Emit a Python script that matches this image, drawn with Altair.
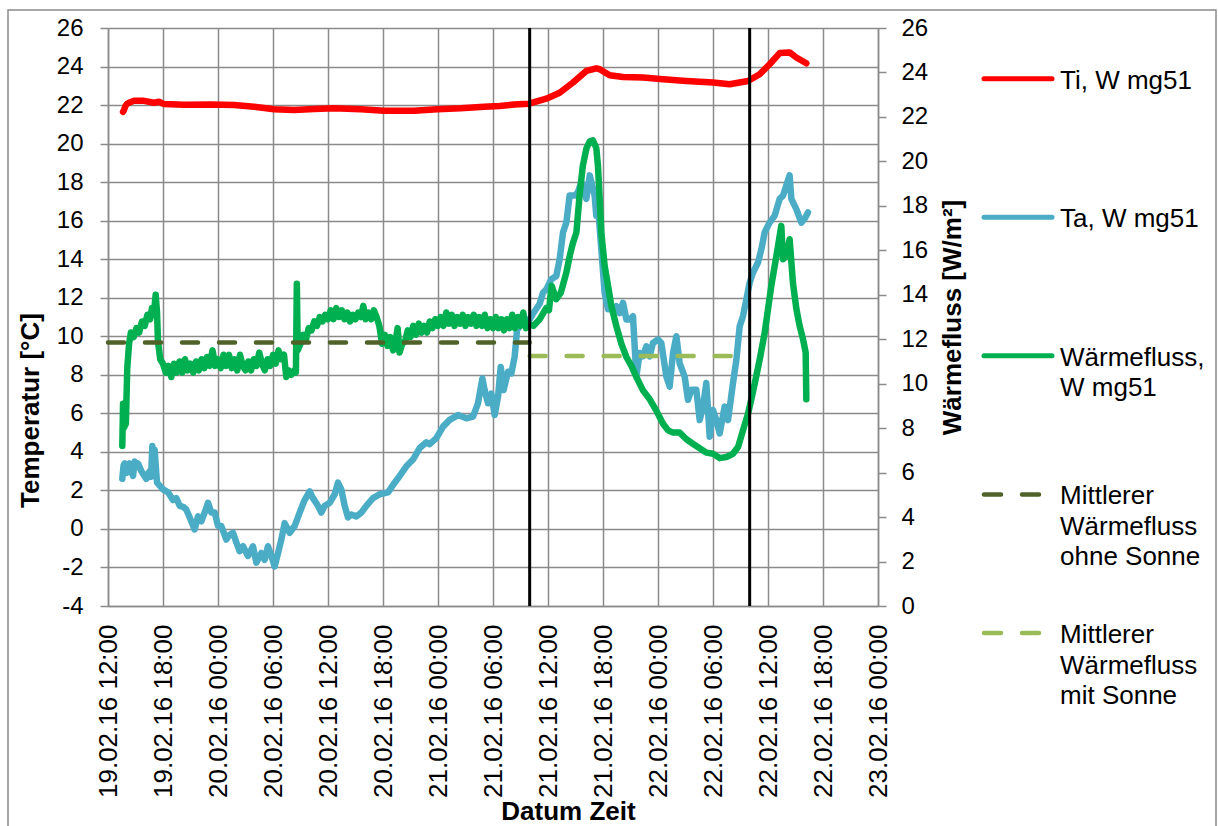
import altair as alt
import pandas as pd

# Time axis: hours after 19.02.16 12:00
START = pd.Timestamp("2016-02-19 12:00")

# Ti, W mg51 - indoor temperature [°C]
ti_hours = [1.64, 1.75, 1.9, 2.05, 2.29, 2.84, 3.93, 5.02, 5.56, 6.11, 8.29, 11.2, 13.75,
            15.93, 18.11, 20.29, 22.47, 24.65, 27.56, 30.11, 33.38, 35.93, 38.47, 41.02,
            42.73, 44.29, 45.93, 47.82, 49.27, 50.73, 52.18, 53.27, 53.64, 54.73, 56.18,
            58.36, 60.55, 63.09, 66.0, 67.82, 69.82, 71.09, 72.18, 73.27, 74.36, 75.09, 76.18]
ti_temp = [21.65, 21.75, 21.95, 22.05, 22.12, 22.22, 22.22, 22.12, 22.17, 22.05, 22.02, 22.03, 22.0,
           21.91, 21.78, 21.74, 21.79, 21.83, 21.78, 21.71, 21.71, 21.78, 21.83, 21.91,
           21.95, 22.03, 22.07, 22.33, 22.64, 23.17, 23.77, 23.91, 23.86, 23.55, 23.46,
           23.43, 23.34, 23.25, 23.17, 23.08, 23.25, 23.6, 24.12, 24.7, 24.73, 24.47, 24.17]

# Ta, W mg51 - outdoor temperature [°C]
ta_hours = [1.56, 1.7, 1.82, 2.0, 2.2, 2.36, 2.55, 2.73, 2.91, 3.1, 3.27, 3.64, 3.9, 4.18, 4.4,
            4.55, 4.7, 4.84, 4.95, 5.09, 5.25, 5.35, 6.0, 6.55, 7.09, 7.45, 7.82, 8.2, 8.55,
            9.09, 9.45, 9.82, 10.18, 10.55, 10.91, 11.27, 11.64, 12.0, 12.36, 12.91, 13.27,
            13.64, 14.0, 14.36, 14.73, 15.27, 15.82, 16.18, 16.73, 17.09, 17.45, 17.82, 18.18,
            18.55, 18.91, 19.27, 19.82, 20.36, 20.91, 21.45, 22.0, 22.36, 22.91, 23.27, 23.64,
            24.18, 24.73, 25.09, 25.45, 25.82, 26.18, 26.55, 27.09, 27.64, 28.18, 28.91, 29.64,
            30.55, 31.27, 31.82, 32.55, 33.27, 34.0, 34.73, 35.09, 35.82, 36.55, 37.27, 38.18,
            39.09, 39.82, 40.36, 40.84, 41.09, 41.45, 41.82, 42.18, 42.55, 42.84, 43.16, 43.64,
            44.0, 44.36, 44.62, 45.09, 45.82, 46.36, 47.09, 47.45, 47.82, 48.36, 48.91, 49.27,
            49.64, 50.0, 50.36, 50.91, 51.27, 51.64, 52.18, 52.55, 53.09, 53.27, 53.45, 53.82,
            54.18, 54.55, 55.09, 55.45, 55.82, 56.18, 56.55, 56.91, 57.27, 57.64, 58.0, 58.36,
            58.73, 59.09, 59.45, 60.0, 60.36, 60.91, 61.27, 61.64, 62.0, 62.36, 62.91, 63.27,
            63.64, 64.18, 64.55, 64.91, 65.27, 65.64, 66.0, 66.36, 66.73, 67.27, 67.64, 68.18,
            68.55, 68.91, 69.27, 69.64, 70.0, 70.36, 70.91, 71.27, 71.64, 72.18, 72.73, 73.27,
            73.64, 74.0, 74.36, 74.55, 75.09, 75.64, 76.0, 76.36]
ta_temp = [2.6, 3.3, 3.4, 2.9, 3.2, 3.4, 3.0, 2.75, 3.5, 3.2, 3.4, 3.0, 2.8, 2.6, 2.9,
           3.0, 2.7, 4.3, 3.9, 4.1, 3.0, 2.4, 2.05, 1.9, 1.5, 1.6, 1.2, 1.15, 1.0,
           0.4, -0.03, 0.65, 0.4, 0.85, 1.35, 0.85, 0.85, 0.15, 0.15, -0.55, -0.3,
           -0.2, -0.7, -1.15, -0.9, -1.4, -0.9, -1.75, -1.25, -1.6, -0.9, -1.4, -1.95,
           -1.25, -0.55, 0.3, -0.2, 0.15, 0.85, 1.5, 1.95, 1.6, 1.2, 0.85, 1.2,
           1.35, 1.8, 2.4, 2.05, 1.2, 0.6, 0.75, 0.65, 0.85, 1.2, 1.6, 1.8,
           1.9, 2.4, 2.75, 3.25, 3.6, 4.2, 4.5, 4.4, 4.71, 5.31, 5.66, 5.91,
           5.74, 5.83, 6.52, 7.81, 7.21, 6.52, 7.03, 5.91, 6.86, 8.41, 7.21, 8.16,
           8.07, 8.93, 10.31, 10.66, 10.74, 11.17, 11.69, 12.26, 12.43, 12.96, 13.13, 14.0,
           15.4, 15.9, 17.3, 17.3, 17.48, 18.0, 17.13, 18.35, 17.3, 16.26, 16.78, 14.5,
           12.26, 11.4, 11.4, 11.56, 11.2, 11.74, 10.87, 10.87, 11.04, 7.91, 9.13, 8.96,
           9.48, 8.96, 9.65, 9.83, 9.65, 7.91, 7.39, 9.13, 10.0, 8.6, 7.91, 6.7,
           7.22, 7.22, 5.65, 6.35, 7.57, 4.78, 6.17, 5.65, 4.96, 6.35, 5.65, 7.57,
           8.78, 10.52, 11.04, 11.91, 12.78, 13.3, 13.83, 14.5, 15.4, 15.9, 16.26, 17.13,
           17.3, 17.83, 18.35, 17.13, 16.6, 15.9, 16.1, 16.43]

# Wärmefluss, W mg51 - heat flux [W/m²]
q_hours = [1.56, 1.64, 1.72, 1.95, 2.1, 2.3, 2.5, 2.8, 3.1, 3.4, 3.7, 4.0, 4.3, 4.6, 4.8,
           5.0, 5.2, 5.35, 5.45, 5.7, 6.0, 6.3, 6.6, 6.9, 7.2, 7.5, 7.8, 8.1, 8.4, 8.7,
           9.0, 9.3, 9.6, 9.9, 10.2, 10.5, 10.8, 11.1, 11.4, 11.7, 12.0, 12.3, 12.6, 12.9,
           13.2, 13.5, 13.8, 14.1, 14.4, 14.7, 15.0, 15.3, 15.6, 15.9, 16.2, 16.5, 16.8,
           17.1, 17.4, 17.7, 18.0, 18.3, 18.6, 18.9, 19.2, 19.45, 19.7, 20.0, 20.3, 20.5,
           20.6, 20.7, 21.0, 21.3, 21.6, 21.9, 22.2, 22.5, 22.8, 23.1, 23.4, 23.7, 24.0,
           24.3, 24.6, 24.9, 25.2, 25.5, 25.8, 26.1, 26.4, 26.7, 27.0, 27.3, 27.6, 27.85,
           28.1, 28.4, 28.7, 29.0, 29.3, 29.6, 29.9, 30.2, 30.5, 30.8, 31.1, 31.4, 31.6,
           31.8, 32.1, 32.4, 32.7, 33.0, 33.3, 33.6, 33.9, 34.2, 34.5, 34.8, 35.1, 35.4,
           35.7, 36.0, 36.3, 36.6, 36.9, 37.2, 37.5, 37.8, 38.1, 38.4, 38.7, 39.0, 39.3,
           39.6, 39.9, 40.2, 40.5, 40.8, 41.1, 41.4, 41.7, 42.0, 42.3, 42.6, 42.9, 43.2,
           43.5, 43.8, 44.1, 44.4, 44.7, 45.0, 45.3, 45.6, 45.9, 46.4, 47.1, 47.8, 48.1,
           48.4, 48.9, 49.4, 50.0, 50.4, 50.7, 51.1, 51.45, 51.8, 52.2, 52.55, 52.9, 53.27,
           53.45, 53.64, 53.82, 54.18, 54.55, 54.91, 55.45, 56.0, 56.55, 57.1, 57.64, 58.36,
           59.1, 59.8, 60.55, 61.1, 61.64, 62.36, 63.1, 63.8, 64.55, 65.27, 66.0, 66.73,
           67.45, 68.18, 68.73, 69.27, 69.82, 70.18, 70.55, 71.1, 71.64, 72.0, 72.36, 72.73,
           73.1, 73.45, 73.64, 74.0, 74.36, 74.73, 75.1, 75.45, 75.82, 76.11, 76.18]
q_flux = [7.2, 9.1, 8.0, 8.2, 10.7, 11.8, 12.3, 12.1, 12.5, 12.3, 12.8, 12.6, 13.1, 12.9, 13.4,
          13.1, 14.0, 13.2, 11.9, 11.1, 10.9, 10.5, 10.8, 10.3, 10.9, 10.5, 11.0, 10.5, 11.1, 10.6,
          10.9, 10.5, 11.0, 10.6, 11.1, 10.7, 11.2, 10.8, 11.5, 10.8, 11.1, 10.7, 11.3, 10.8,
          11.3, 10.7, 11.1, 10.6, 11.3, 10.8, 10.6, 11.0, 10.6, 11.1, 10.8, 11.4, 10.9,
          10.6, 11.1, 10.8, 11.3, 10.9, 11.5, 11.1, 11.3, 10.3, 10.6, 10.4, 10.6, 10.5,
          14.5, 11.5, 11.8, 12.2, 12.0, 12.5, 12.4, 12.8, 12.6, 13.0, 12.8, 13.1, 12.9,
          13.3, 12.9, 13.4, 13.0, 13.3, 12.9, 13.2, 12.8, 13.1, 12.9, 13.2, 13.0, 13.5,
          12.9, 13.2, 12.9, 13.3, 13.0, 12.6, 11.8, 12.2, 11.7, 12.1, 11.5, 12.0, 12.5,
          11.4, 11.8, 11.9, 12.4, 12.1, 12.6, 12.2, 12.7, 12.3, 12.6, 12.3, 12.8, 12.5,
          12.9, 12.6, 13.0, 12.6, 13.2, 12.7, 13.1, 12.6, 13.0, 12.7, 13.1, 12.6, 13.0,
          12.7, 13.1, 12.6, 13.0, 12.6, 13.1, 12.5, 12.9, 12.5, 13.0, 12.5, 12.9, 12.4,
          12.9, 12.5, 13.1, 12.5, 13.0, 12.6, 13.2, 12.5, 12.7, 12.6, 12.9, 13.4, 13.3,
          14.4, 13.8, 14.1, 15.0, 15.8, 16.3, 16.8, 18.5, 19.8, 20.6, 20.9, 20.95, 20.6,
          19.8, 18.3, 16.8, 15.3, 14.4, 13.5, 12.6, 11.8, 11.2, 10.8, 10.3, 9.7,
          9.3, 8.8, 8.2, 7.9, 7.8, 7.8, 7.5, 7.3, 7.1, 6.9, 6.85, 6.65,
          6.7, 6.85, 7.15, 7.9, 8.65, 9.3, 10.0, 11.1, 12.3, 13.35, 14.4, 15.3,
          16.2, 17.1, 15.6, 15.75, 16.5, 14.5, 13.35, 12.6, 12.0, 11.4, 9.3]

# Mean heat flux without / with sun [W/m²]
mean_names = ["Mittlerer Wärmefluss ohne Sonne", "Mittlerer Wärmefluss mit Sonne"]
mean_from_hours = [0, 46]
mean_to_hours = [46, 70]
mean_flux = [11.85, 11.25]

# Vertical markers (21.02.16 10:00 and 22.02.16 10:00)
marker_hours = [46, 70]

# Legend entries
legend_names = ["Ti, W mg51", "Ta, W mg51", "Wärmefluss, W mg51"] + mean_names
legend_labels = ["Ti, W mg51", "Ta, W mg51", "Wärmefluss,\nW mg51",
                 "Mittlerer\nWärmefluss\nohne Sonne", "Mittlerer\nWärmefluss\nmit Sonne"]
legend_colors = ["#FF0000", "#4BACC6", "#00B050", "#4F6228", "#9BBB59"]
legend_dashed = [False, False, False, True, True]

GRID = "#8a8a8a"
FONT = "Liberation Sans"


def to_time(hours):
    return START + pd.to_timedelta(hours, unit="h")


def dt(offset_hours):
    ts = START + pd.Timedelta(hours=offset_hours)
    return alt.DateTime(year=ts.year, month=ts.month, date=ts.day, hours=ts.hour)


df_ti = pd.DataFrame({"t": to_time(ti_hours), "v": ti_temp})
df_ta = pd.DataFrame({"t": to_time(ta_hours), "v": ta_temp})
df_q = pd.DataFrame({"t": to_time(q_hours), "v": q_flux})
df_mean = pd.DataFrame({"t": to_time(mean_from_hours), "t2": to_time(mean_to_hours),
                        "v": mean_flux, "name": mean_names})
df_mark = pd.DataFrame({"t": to_time(marker_hours)})
df_legend = pd.DataFrame({"row": list(range(len(legend_labels))), "label": legend_labels,
                          "name": legend_names, "dashed": legend_dashed})

color_scale = alt.Scale(domain=legend_names, range=legend_colors)

x_enc = alt.X(
    "t:T",
    scale=alt.Scale(domain=[dt(0), dt(84)]),
    axis=alt.Axis(
        values=[dt(h) for h in range(0, 85, 6)], format="%d.%m.%y %H:%M",
        labelAngle=270, labelFontSize=26, labelFont=FONT, labelColor="black",
        labelPadding=18, labelOverlap=False, labelFlush=False, labelLimit=400, ticks=False,
        grid=True, gridColor=GRID, gridWidth=1.5, domainColor=GRID, domainWidth=1.5,
        title="Datum Zeit", titleFont=FONT, titleFontSize=26, titleFontWeight="bold",
        titleColor="black", titleX=460, titleY=213, titleAlign="center",
        titleBaseline="alphabetic",
    ),
)

y_left = alt.Y(
    "v:Q",
    scale=alt.Scale(domain=[-4, 26], nice=False, zero=False),
    axis=alt.Axis(
        orient="left", values=list(range(-4, 27, 2)), labelExpr="'' + datum.value",
        labelFontSize=24, labelFont=FONT,
        labelColor="black", labelPadding=17, tickSize=8, tickColor=GRID, tickWidth=1.5,
        grid=True, gridColor=GRID, gridWidth=1.5, domainColor=GRID, domainWidth=1.5,
        title="Temperatur [°C]", titleFont=FONT, titleFontSize=26, titleFontWeight="bold",
        titleColor="black", titleAngle=270, titleX=-65, titleY=382, titleAlign="center",
        titleBaseline="bottom",
    ),
)

y_right = alt.Y(
    "v:Q",
    scale=alt.Scale(domain=[0, 26], nice=False, zero=False),
    axis=alt.Axis(
        orient="right", values=list(range(0, 27, 2)), labelFontSize=24, labelFont=FONT,
        labelColor="black", labelPadding=15, tickSize=8, tickColor=GRID, tickWidth=1.5,
        grid=False, domainColor=GRID, domainWidth=1.5,
        title="Wärmefluss [W/m²]", titleFont=FONT, titleFontSize=26, titleFontWeight="bold",
        titleColor="black", titleAngle=270, titleX=87, titleY=289, titleAlign="center",
        titleBaseline="bottom",
    ),
)

line_style = dict(strokeWidth=6.5, strokeCap="round", strokeJoin="round")

ti_line = alt.Chart(df_ti).mark_line(color="#FF0000", **line_style).encode(x=x_enc, y=y_left)
ta_line = alt.Chart(df_ta).mark_line(color="#4BACC6", **line_style).encode(x=x_enc, y=y_left)
temp_layer = alt.layer(ti_line, ta_line)

q_line = alt.Chart(df_q).mark_line(color="#00B050", **line_style).encode(x=x_enc, y=y_right)
mean_lines = alt.Chart(df_mean).mark_rule(
    strokeWidth=4.5, strokeDash=[16, 21], strokeCap="round"
).encode(
    x=x_enc, x2="t2:T", y=y_right,
    color=alt.Color("name:N", scale=color_scale, legend=None),
)
flux_layer = alt.layer(q_line, mean_lines)

markers = alt.Chart(df_mark).mark_rule(color="black", strokeWidth=3).encode(x=x_enc)

# Chart-area frame
frame = alt.Chart(pd.DataFrame({"k": [0]})).mark_rect(
    fillOpacity=0, stroke="#8a8a8a", strokeWidth=1.5
).encode(x=alt.value(-100), x2=alt.value(1108), y=alt.value(-18), y2=alt.value(830))

# Legend to the right of the plot
legend_y = alt.Y("row:Q", scale=alt.Scale(domain=[0, 4], range=[50.7, 605]), axis=None)
legend_color = alt.Color("name:N", scale=color_scale, legend=None)
legend_solid = alt.Chart(df_legend).transform_filter("!datum.dashed").mark_rule(
    strokeWidth=5, strokeCap="round"
).encode(x=alt.value(876), x2=alt.value(944), y=legend_y, color=legend_color)
legend_dash = alt.Chart(df_legend).transform_filter("datum.dashed").mark_rule(
    strokeWidth=4.5, strokeCap="round", strokeDash=[17, 21]
).encode(x=alt.value(876), x2=alt.value(944), y=legend_y, color=legend_color)
legend_text = alt.Chart(df_legend).mark_text(
    align="left", baseline="top", dy=-11, fontSize=26, font=FONT, lineHeight=30.5,
    lineBreak="\n", color="black"
).encode(x=alt.value(952), y=legend_y, text="label:N")
legend_layer = alt.layer(legend_solid, legend_dash, legend_text)

chart = alt.layer(
    frame, temp_layer, flux_layer, markers, legend_layer
).resolve_scale(
    y="independent"
).properties(
    width=770, height=578,
    autosize=alt.AutoSizeParams(type="none"),
    padding={"left": 108, "top": 28, "right": 340, "bottom": 220},
    background="white",
).configure_view(
    stroke=None
).configure(
    font=FONT
)

chart.save("out.html", embed_options={"renderer": "svg", "actions": False})
